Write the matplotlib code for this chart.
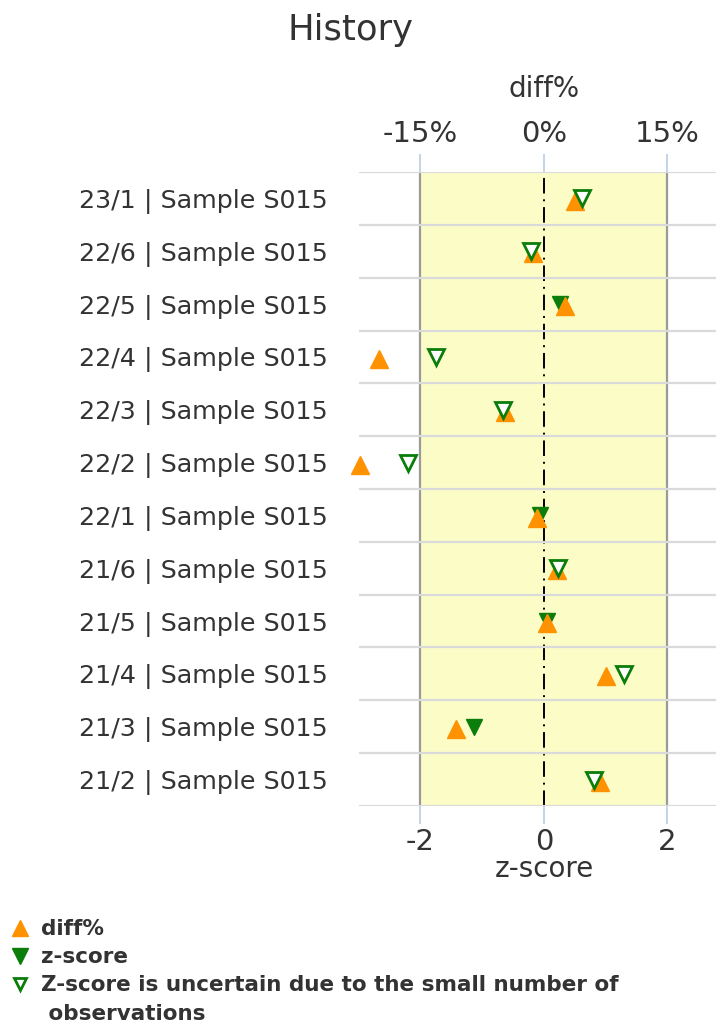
import numpy as np
import matplotlib
matplotlib.use("Agg")
import matplotlib.pyplot as plt
from matplotlib.lines import Line2D

# Datos (fila superior primero)
labels = ["23/1 | Sample S015", "22/6 | Sample S015", "22/5 | Sample S015",
          "22/4 | Sample S015", "22/3 | Sample S015", "22/2 | Sample S015",
          "22/1 | Sample S015", "21/6 | Sample S015", "21/5 | Sample S015",
          "21/4 | Sample S015", "21/3 | Sample S015", "21/2 | Sample S015"]
diff_pct = [3.8, -1.3, 2.6, -20.0, -4.7, -22.4, -0.8, 1.6, 0.4, 7.5, -10.7, 6.8]
z_score = [0.61, -0.21, 0.26, -1.75, -0.66, -2.21, -0.06, 0.22, 0.05, 1.29, -1.14, 0.81]
uncertain = [True, True, False, True, True, True, False, True, False, True, False, True]

pct_per_z = 7.5          # 15% <-> z = 2
x_ticks = [-2, 0, 2]

orange = "#ff9200"
green = "#0a7d0a"
text_col = "#333333"

fig = plt.figure(figsize=(7.16, 10.35), dpi=100)
ax = fig.add_axes([0.501, 0.2213, 0.5175, 0.6125])

y = np.arange(len(labels))
diff_z = np.array(diff_pct) / pct_per_z
z = np.array(z_score)
unc = np.array(uncertain)

# banda amarilla -2..2
ax.axvspan(-2, 2, color="#fcfcc6", zorder=0)
for xv in (-2, 2):
    ax.axvline(xv, color="#9a9a9a", lw=1.6, zorder=1)
ax.axvline(0, color="black", lw=1.4, linestyle=(0, (8, 3, 1, 3)), zorder=1)

# lineas horizontales entre filas
for b in np.arange(-0.5, len(labels), 1.0):
    ax.axhline(b, color="#dadada", lw=1.6, zorder=1.5)

# marcadores
ax.plot(z[~unc], y[~unc], linestyle="none", marker="v", ms=12,
        color=green, mec=green, zorder=3, clip_on=False)
ax.plot(diff_z, y + 0.04, linestyle="none", marker="^", ms=13,
        color=orange, mec=orange, zorder=4, clip_on=False)
ax.plot(z[unc], y[unc], linestyle="none", marker="v", ms=11,
        mfc="white", mec=green, mew=2, zorder=5, clip_on=False)

ax.set_xlim(-3, 3)
ax.set_ylim(len(labels) - 0.5, -0.5)
ax.set_yticks(y)
ax.set_yticklabels(labels, fontsize=18.3, color=text_col)
ax.tick_params(axis="y", length=0, pad=22)

ax.set_xticks(x_ticks)
ax.set_xticklabels([str(t) for t in x_ticks], fontsize=21, color=text_col)
ax.tick_params(axis="x", length=13, width=1.2, color="#b8cde3", pad=3)
ax.set_xlabel("z-score", fontsize=20, color=text_col, labelpad=-1)

sec = ax.secondary_xaxis("top", functions=(lambda v: v * pct_per_z, lambda v: v / pct_per_z))
sec.set_xticks([t * pct_per_z for t in x_ticks])
sec.set_xticklabels([f"{int(t * pct_per_z)}%" for t in x_ticks], fontsize=21, color=text_col)
sec.tick_params(axis="x", length=13, width=1.2, color="#b8cde3", pad=4)
sec.set_xlabel("diff%", fontsize=20, color=text_col, labelpad=17)
for s in sec.spines.values():
    s.set_visible(False)

for s in ax.spines.values():
    s.set_visible(False)

fig.text(0.489, 0.971, "History", ha="center", va="center", fontsize=25.5, color=text_col)

# leyenda
handles = [
    Line2D([], [], linestyle="none", marker="^", ms=11, color=orange),
    Line2D([], [], linestyle="none", marker="v", ms=11, color=green),
    Line2D([], [], linestyle="none", marker="v", ms=9, mfc="white", mec=green, mew=2),
    Line2D([], [], linestyle="none"),
]
leg_labels = ["diff%", "z-score", "Z-score is uncertain due to the small number of",
              " observations"]
leg = fig.legend(handles, leg_labels, loc="upper left", bbox_to_anchor=(0.014, 0.112),
                 frameon=False, prop={"weight": "bold", "size": 15.5},
                 handlelength=0.9, handletextpad=0.55, labelspacing=0.38,
                 borderaxespad=0, borderpad=0)
for t in leg.get_texts():
    t.set_color(text_col)

fig.savefig("out.png", dpi=100)
